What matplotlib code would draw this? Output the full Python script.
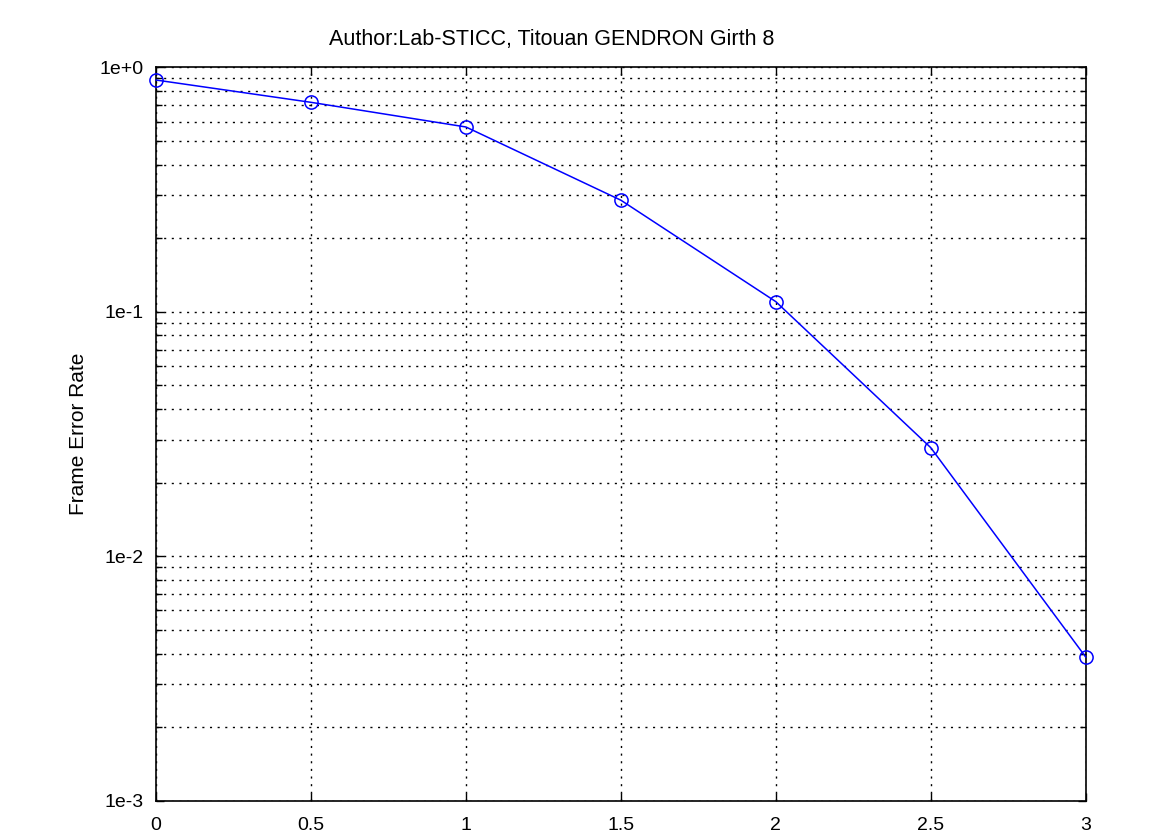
import matplotlib
matplotlib.use("Agg")
import matplotlib.pyplot as plt
from matplotlib.ticker import LogLocator, FixedLocator, FuncFormatter, NullFormatter

# values
snr = [0, 0.5, 1, 1.5, 2, 2.5, 3]
fer = [0.887, 0.719, 0.570, 0.286, 0.110, 0.0278, 0.00387]
x_ticks = [0, 0.5, 1, 1.5, 2, 2.5, 3]
x_tick_labels = ["0", "0.5", "1", "1.5", "2", "2.5", "3"]
y_ticks = [1e-3, 1e-2, 1e-1, 1e0]
y_tick_labels = ["1e-3", "1e-2", "1e-1", "1e+0"]

plt.rcParams['font.family'] = ['Liberation Sans', 'DejaVu Sans']

fig = plt.figure(figsize=(11.75, 8.35), dpi=100)
ax = fig.add_axes([0.1328, 0.0411, 0.7912, 0.8783])

ax.plot(snr, fer, color='blue', linewidth=1.1, marker='o', markersize=9.5,
        markerfacecolor='none', markeredgecolor='blue', markeredgewidth=1.1,
        clip_on=False, zorder=3)

ax.set_yscale('log')
ax.set_xlim(0, 3)
ax.set_ylim(1e-3, 1)

ax.xaxis.set_major_locator(FixedLocator(x_ticks))
ax.set_xticklabels(x_tick_labels)
ax.yaxis.set_major_locator(FixedLocator(y_ticks))
ax.yaxis.set_major_formatter(FuncFormatter(lambda v, p: y_tick_labels[y_ticks.index(v)] if v in y_ticks else ""))
ax.yaxis.set_minor_locator(LogLocator(base=10, subs=range(2, 10)))
ax.yaxis.set_minor_formatter(NullFormatter())

ax.tick_params(which='both', direction='in', top=True, right=True,
               labelsize=14, colors='black')
ax.tick_params(axis='x', pad=12)
ax.tick_params(axis='y', pad=9)
ax.tick_params(which='major', length=6, width=1)
ax.tick_params(which='minor', length=4, width=1)

ax.grid(True, which='major', axis='both', color='black', linestyle=(0, (1.5, 4)), linewidth=1)
ax.grid(True, which='minor', axis='y', color='black', linestyle=(0, (1.5, 4)), linewidth=1)

for s in ax.spines.values():
    s.set_linewidth(1.2)

ax.set_ylabel("Frame Error Rate", fontsize=15, labelpad=8)
fig.text(552 / 1175, 1 - 40 / 835, "Author:Lab-STICC, Titouan GENDRON Girth 8",
         ha='center', va='center', fontsize=15.5)

fig.savefig("out.png", dpi=100)
